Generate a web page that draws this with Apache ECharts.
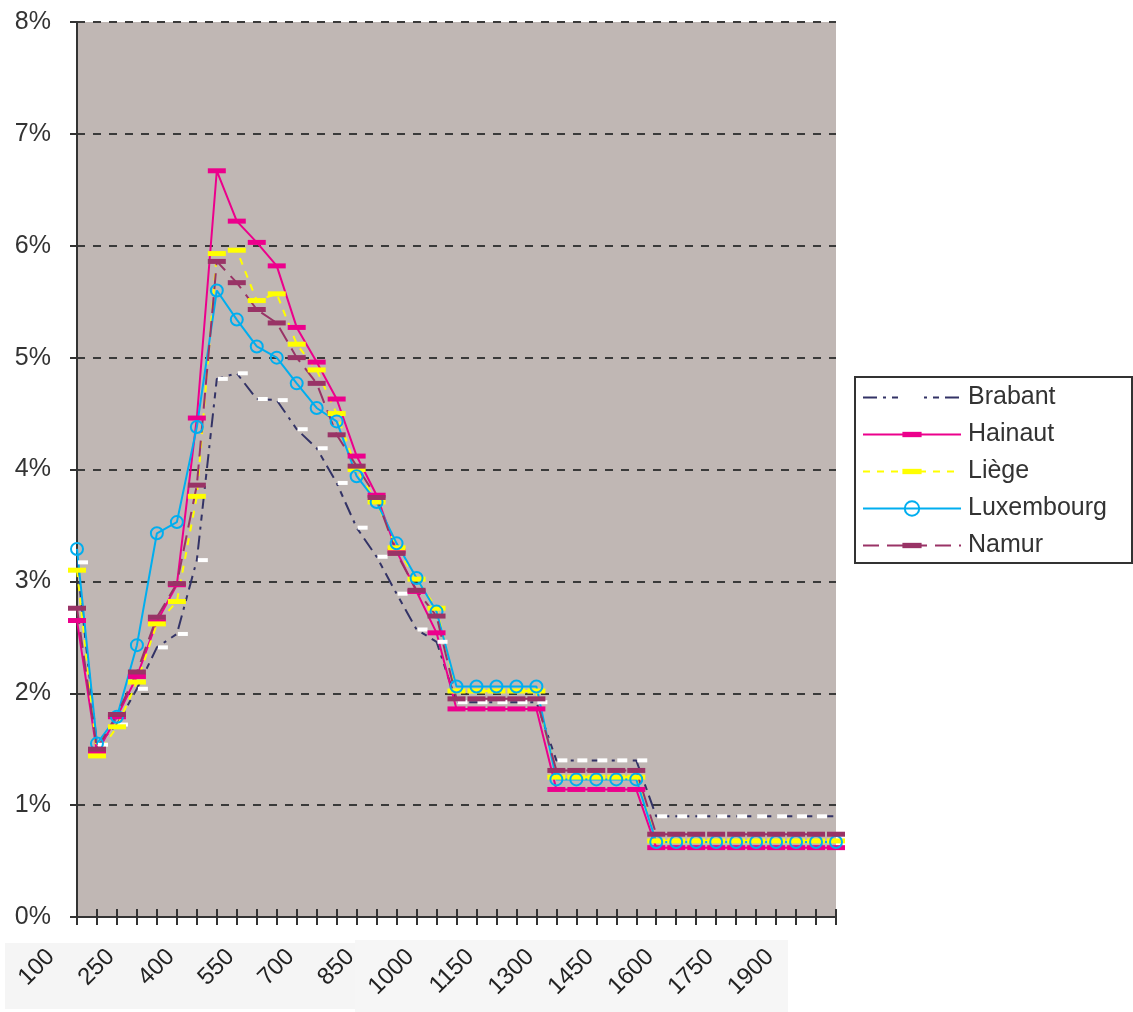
<!DOCTYPE html>
<html>
<head>
<meta charset="utf-8">
<title>Provinces</title>
<script src="https://cdn.jsdelivr.net/npm/echarts@6/dist/echarts.min.js"></script>
<style>
  html, body { margin: 0; padding: 0; background: #ffffff; }
  #chart { width: 1133px; height: 1012px; }
</style>
</head>
<body>
<div id="chart"></div>
<script>
// Years on the horizontal axis (step of 50)
const years = ['100','150','200','250','300','350','400','450','500','550',
  '600','650','700','750','800','850','900','950','1000','1050',
  '1100','1150','1200','1250','1300','1350','1400','1450','1500','1550',
  '1600','1650','1700','1750','1800','1850','1900','1950','2000'];

// Values in percent
const brabant = [3.17,1.54,1.72,2.04,2.41,2.53,3.19,4.81,4.86,4.63,
  4.62,4.36,4.19,3.88,3.48,3.22,2.89,2.57,2.46,1.92,
  1.92,1.92,1.92,1.92,1.40,1.40,1.40,1.40,1.40,0.90,
  0.90,0.90,0.90,0.90,0.90,0.90,0.90,0.90,0.90];
const hainaut = [2.65,1.47,1.79,2.15,2.64,2.97,4.46,6.67,6.22,6.03,
  5.82,5.27,4.96,4.63,4.12,3.77,3.27,2.91,2.54,1.86,
  1.86,1.86,1.86,1.86,1.14,1.14,1.14,1.14,1.14,0.62,
  0.62,0.62,0.62,0.62,0.62,0.62,0.62,0.62,0.62];
const liege = [3.10,1.44,1.70,2.10,2.62,2.82,3.76,5.93,5.96,5.51,
  5.57,5.12,4.89,4.50,4.00,3.71,3.30,3.02,2.76,2.02,
  2.02,2.02,2.02,2.02,1.25,1.25,1.25,1.25,1.25,0.68,
  0.68,0.68,0.68,0.68,0.68,0.68,0.68,0.68,0.68];
const luxembourg = [3.29,1.55,1.79,2.43,3.43,3.53,4.38,5.60,5.34,5.10,
  5.00,4.77,4.55,4.43,3.94,3.71,3.34,3.03,2.73,2.06,
  2.06,2.06,2.06,2.06,1.23,1.23,1.23,1.23,1.23,0.67,
  0.67,0.67,0.67,0.67,0.67,0.67,0.67,0.67,0.67];
const namur = [2.76,1.50,1.81,2.19,2.68,2.98,3.86,5.86,5.67,5.43,
  5.31,5.00,4.77,4.31,4.03,3.75,3.25,2.92,2.69,1.95,
  1.95,1.95,1.95,1.95,1.31,1.31,1.31,1.31,1.31,0.74,
  0.74,0.74,0.74,0.74,0.74,0.74,0.74,0.74,0.74];

const FONT = '"Liberation Sans", Arial, sans-serif';
// Flat bar and small ring markers drawn inside a square box, so the legend
// (which draws symbols in a square) keeps their shape.
const BAR = 'path://M0,6.5L18,6.5L18,11.5L0,11.5Z M0,0L0,0 M18,18L18,18';
const RING = 'path://M2,8A6,6,0,1,1,14,8A6,6,0,1,1,2,8Z M0,0L0,0 M16,16L16,16';

const chart = echarts.init(document.getElementById('chart'), null, { renderer: 'canvas' });

const barMarker = (color) => ({
  symbol: BAR,
  symbolSize: 18,
  showAllSymbol: true,
  itemStyle: { color: color, borderWidth: 0 }
});

const tickStyle = { color: '#333333', width: 2 };

const option = {
  backgroundColor: '#ffffff',
  animation: false,
  textStyle: { fontFamily: FONT },
  graphic: [
    // light panels under the year labels
    { type: 'rect', z: -10, shape: { x: 5, y: 943, width: 350, height: 66 }, style: { fill: '#f5f5f5' } },
    { type: 'rect', z: -10, shape: { x: 355, y: 940, width: 433, height: 72 }, style: { fill: '#f6f6f6' } },
    // legend frame
    { type: 'rect', z: 10, shape: { x: 855, y: 377, width: 277, height: 186 },
      style: { fill: '#ffffff', stroke: '#333333', lineWidth: 2 } }
  ],
  grid: {
    left: 77, right: 297, top: 22, bottom: 95,
    show: true, backgroundColor: '#c0b7b4', borderWidth: 0
  },
  legend: {
    z: 12,
    orient: 'vertical',
    left: 862, top: 385,
    itemWidth: 98, itemHeight: 24, itemGap: 12,
    padding: 0,
    textStyle: { fontSize: 25, color: '#333333', fontFamily: FONT, padding: [0, 0, 0, 2] },
    data: ['Brabant', 'Hainaut', 'Liège', 'Luxembourg', 'Namur']
  },
  xAxis: [
    {
      type: 'category',
      data: years,
      boundaryGap: false,
      axisLine: { lineStyle: { color: '#333333', width: 2 } },
      axisTick: { show: true, interval: 0, length: 8, lineStyle: tickStyle },
      axisLabel: {
        interval: 2, rotate: 45, margin: 10,
        fontSize: 24, color: '#222222', fontFamily: FONT,
        padding: [0, 37, 0, 0]
      },
      splitLine: { show: false }
    },
    {
      // upper half of the crossing tick marks, lifted just above the axis line
      type: 'category',
      data: years,
      position: 'bottom',
      offset: -8,
      z: 5,
      boundaryGap: false,
      axisLine: { show: true, lineStyle: { color: 'rgba(0,0,0,0)', width: 0 } },
      axisTick: { show: true, interval: 0, length: 8, lineStyle: tickStyle },
      axisLabel: { show: false },
      splitLine: { show: false }
    }
  ],
  yAxis: {
    type: 'value',
    min: 0, max: 8, interval: 1,
    axisLine: { show: true, lineStyle: { color: '#333333', width: 2 } },
    axisTick: { show: true, length: 7, lineStyle: tickStyle },
    axisLabel: { formatter: '{value}%', fontSize: 25, color: '#333333', margin: 26, fontFamily: FONT },
    splitLine: { show: true, lineStyle: { color: '#3a3a3a', width: 2, type: [8, 8] } }
  },
  series: [
    {
      name: 'Brabant', type: 'line', data: brabant,
      symbol: 'rect', symbolSize: [10, 4], symbolOffset: [6, 0], showAllSymbol: true,
      itemStyle: { color: '#ffffff', borderWidth: 0 },
      lineStyle: { color: '#333366', width: 2, type: [14, 6, 3, 6, 6, 6] },
      color: '#333366'
    },
    Object.assign({
      name: 'Hainaut', type: 'line', data: hainaut,
      lineStyle: { color: '#ec008c', width: 2 }
    }, barMarker('#ec008c')),
    Object.assign({
      name: 'Liège', type: 'line', data: liege,
      lineStyle: { color: '#ffff00', width: 2, type: [7, 7] }
    }, barMarker('#ffff00')),
    {
      name: 'Luxembourg', type: 'line', data: luxembourg,
      symbol: RING, symbolSize: 16, showAllSymbol: true,
      itemStyle: { color: 'rgba(0,0,0,0)', borderColor: '#00aeef', borderWidth: 2 },
      lineStyle: { color: '#00aeef', width: 2 }
    },
    Object.assign({
      name: 'Namur', type: 'line', data: namur,
      lineStyle: { color: '#993366', width: 2, type: [16, 8] }
    }, barMarker('#993366')),
    {
      // keeps the second (tick-only) category axis in use
      name: 'ticks', type: 'line', xAxisIndex: 1, data: [],
      symbol: 'none', silent: true
    }
  ]
};

chart.setOption(option);
</script>
</body>
</html>
